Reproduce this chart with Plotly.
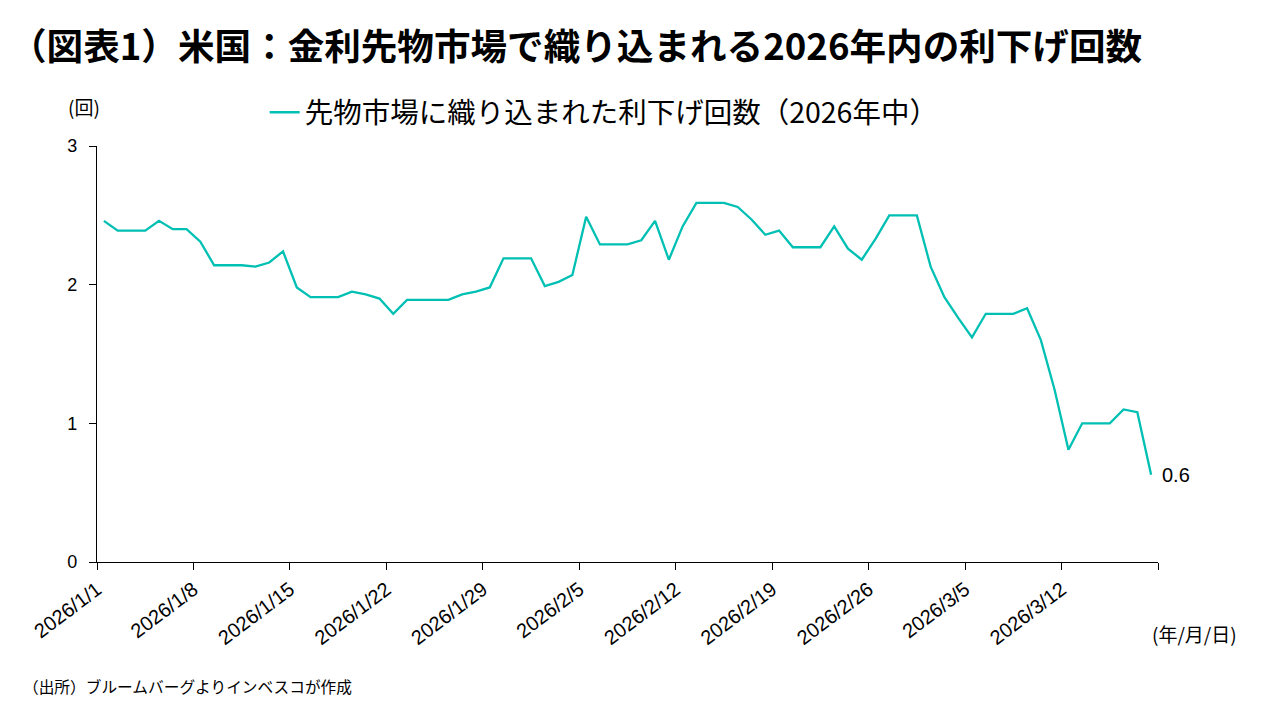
import pandas as pd
import plotly.graph_objects as go

# 先物市場に織り込まれた2026年中の利下げ回数（日次, 2026/1/1～2026/3/18）
dates = pd.date_range("2026-01-01", "2026-03-18", freq="D") + pd.Timedelta(hours=12)
cuts = [
    2.46, 2.39, 2.39, 2.39, 2.46, 2.40, 2.40, 2.31, 2.14, 2.14,
    2.14, 2.13, 2.16, 2.24, 1.98, 1.91, 1.91, 1.91, 1.95, 1.93,
    1.90, 1.79, 1.89, 1.89, 1.89, 1.89, 1.93, 1.95, 1.98, 2.19,
    2.19, 2.19, 1.99, 2.02, 2.07, 2.49, 2.29, 2.29, 2.29, 2.32,
    2.46, 2.18, 2.42, 2.59, 2.59, 2.59, 2.56, 2.47, 2.36, 2.39,
    2.27, 2.27, 2.27, 2.42, 2.26, 2.18, 2.33, 2.50, 2.50, 2.50,
    2.13, 1.91, 1.76, 1.62, 1.79, 1.79, 1.79, 1.83, 1.60, 1.24,
    0.81, 1.00, 1.00, 1.00, 1.10, 1.08, 0.63,
]

tick_dates = ["2026-01-01", "2026-01-08", "2026-01-15", "2026-01-22", "2026-01-29",
              "2026-02-05", "2026-02-12", "2026-02-19", "2026-02-26", "2026-03-05",
              "2026-03-12", "2026-03-19"]
tick_labels = ["2026/1/1", "2026/1/8", "2026/1/15", "2026/1/22", "2026/1/29",
               "2026/2/5", "2026/2/12", "2026/2/19", "2026/2/26", "2026/3/5",
               "2026/3/12", ""]
y_ticks = [0, 1, 2, 3]

title = "（図表1）米国：金利先物市場で織り込まれる2026年内の利下げ回数"
series_name = "先物市場に織り込まれた利下げ回数（2026年中）"
source = "（出所）ブルームバーグよりインベスコが作成"
line_color = "#00BFB3"
jp_font = "Noto Sans CJK JP"
num_font = "Liberation Sans, Arial"

fig = go.Figure()
fig.add_trace(go.Scatter(x=dates, y=cuts, mode="lines", name=series_name,
                         line=dict(color=line_color, width=2.3)))

# the page body has an 8px margin, so the figure is 8px smaller than the window
fig.update_layout(
    width=1272, height=712,
    paper_bgcolor="white", plot_bgcolor="white",
    margin=dict(l=89, r=122, t=138, b=158, autoexpand=False),
    showlegend=True,
    legend=dict(orientation="h", x=0.478, xanchor="center", y=1.08, yanchor="middle",
                font=dict(family=jp_font, size=28.5, color="#000000"),
                itemwidth=30, bgcolor="rgba(0,0,0,0)"),
)

fig.update_xaxes(
    type="date", range=["2026-01-01", "2026-03-19"], automargin=False,
    tickmode="array", tickvals=tick_dates, ticktext=tick_labels,
    tickangle=-37, ticks="outside", ticklen=7, tickcolor="black",
    showline=True, linecolor="black", linewidth=1.3, showgrid=False, zeroline=False,
    tickfont=dict(family=num_font, size=20, color="black"),
)
fig.update_yaxes(
    range=[0, 3], tickmode="array", tickvals=y_ticks, automargin=False,
    ticks="outside", ticklen=7, tickcolor="black", ticklabelstandoff=8,
    showline=True, linecolor="black", linewidth=1.3, showgrid=False, zeroline=False,
    tickfont=dict(family=num_font, size=18, color="black"),
)

# タイトル
fig.add_annotation(x=-0.0835, y=1.243, xref="paper", yref="paper", text=f"<b>{title}</b>",
                   showarrow=False, xanchor="left", yanchor="middle",
                   font=dict(family=jp_font, size=36.6, color="#000000"))

# 最終値ラベル
fig.add_annotation(x=dates[-1], y=cuts[-1], text=f"{cuts[-1]:.1f}", showarrow=False,
                   xanchor="left", yanchor="middle", xshift=9,
                   font=dict(family=num_font, size=20, color="black"))

# 単位・出所
fig.add_annotation(x=-0.012, y=1.094, xref="paper", yref="paper", text="(回)",
                   showarrow=False, xanchor="center", yanchor="middle",
                   font=dict(family=jp_font, size=19, color="black"))
fig.add_annotation(x=1.034, y=-0.171, xref="paper", yref="paper", text="(年/月/日)",
                   showarrow=False, xanchor="center", yanchor="middle",
                   font=dict(family=jp_font, size=19, color="black"))
fig.add_annotation(x=-0.072, y=-0.300, xref="paper", yref="paper", text=source,
                   showarrow=False, xanchor="left", yanchor="middle",
                   font=dict(family=jp_font, size=15.7, color="black"))

fig.write_html("out.html")
